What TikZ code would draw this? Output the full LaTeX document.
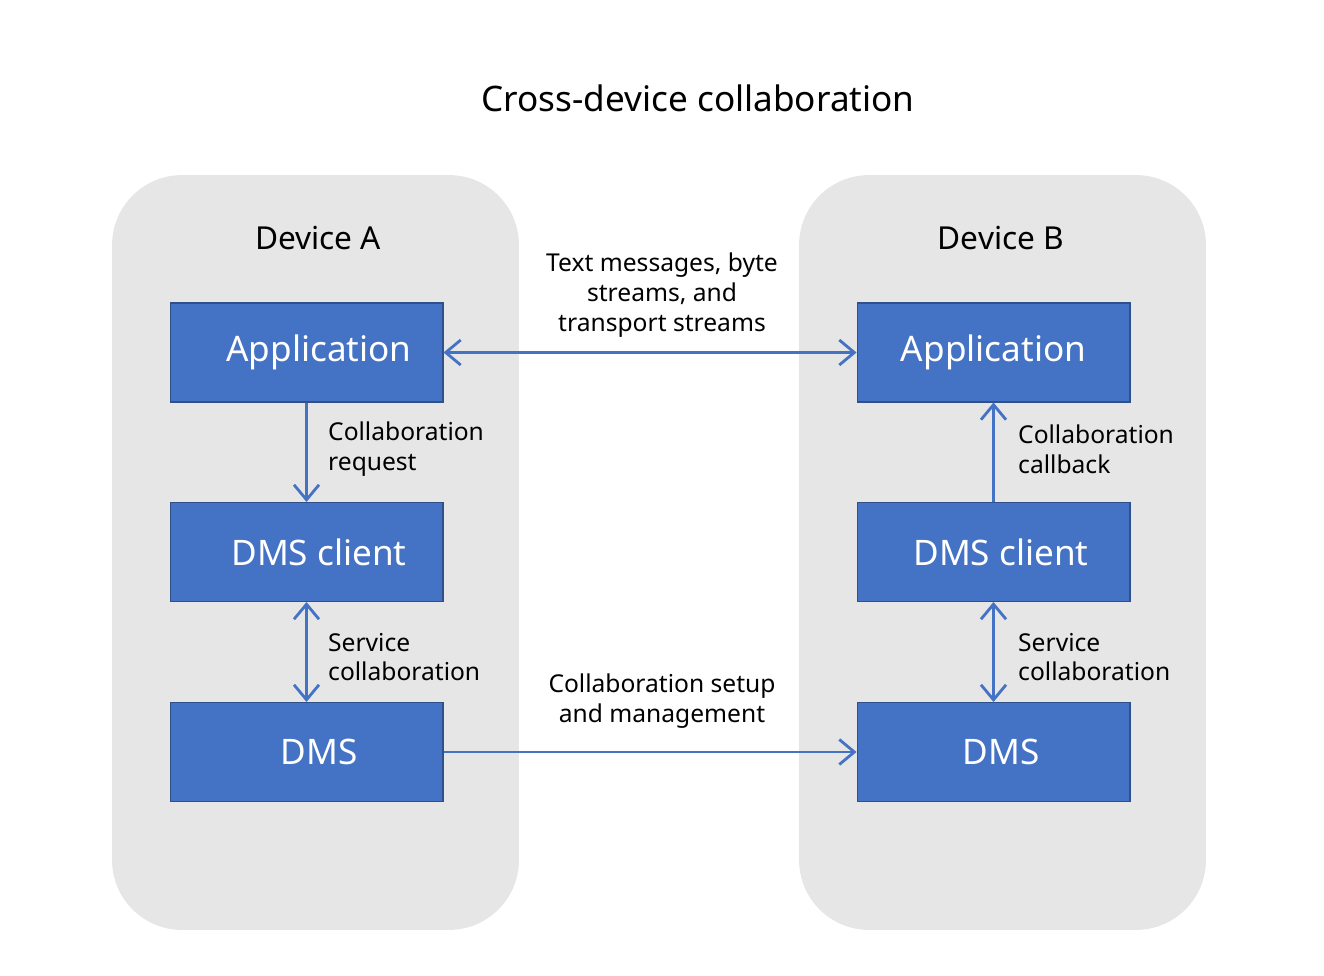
\documentclass[tikz,border=0pt]{standalone}
\usepackage{fontspec}
\setmainfont{Noto Sans}
\usetikzlibrary{positioning,arrows.meta}
\definecolor{boxblue}{HTML}{4472C4}
\definecolor{panelgray}{HTML}{E6E6E6}
\tikzset{
  panel/.style={fill=panelgray, draw=none, rounded corners=1.4cm, minimum width=8.14cm, minimum height=15.1cm},
  block/.style={fill=boxblue, draw=boxblue!70!black, line width=0.6pt, text=white, minimum width=5.46cm, minimum height=1.98cm, font=\fontsize{20}{24}\selectfont},
  link/.style={draw=boxblue, line width=1.6pt, -{Straight Barb[length=3mm,width=5mm]}},
  both/.style={link, {Straight Barb[length=3mm,width=5mm]}-{Straight Barb[length=3mm,width=5mm]}},
  note/.style={align=left, anchor=west, font=\fontsize{14}{17}\selectfont},
  mid/.style={align=center, font=\fontsize{14}{17}\selectfont}
}
\begin{document}
\begin{tikzpicture}[x=0.02cm,y=-0.02cm]
  \useasboundingbox (0,0) rectangle (1324,976);
  \node[font=\bfseries\fontsize{20}{24}\selectfont] (title) at (698,98) {Cross-device collaboration};

  \node[panel] (devA) at (315.5,552.5) {};
  \node[panel] (devB) at (1002.5,552.5) {};
  \node[font=\fontsize{18}{22}\selectfont] (labA) at (318,238) {Device A};
  \node[font=\fontsize{18}{22}\selectfont] (labB) at (1001,238) {Device B};

  \node[block] (appA) at (306.5,352.5) {\hspace{0.5cm}Application};
  \node[block] (clientA) at (306.5,552) {\hspace{0.5cm}DMS client};
  \node[block] (dmsA) at (306.5,752) {\hspace{0.5cm}DMS};
  \node[block] (appB) at (993.5,352.5) {Application};
  \node[block] (clientB) at (993.5,552) {\hspace{0.3cm}DMS client};
  \node[block] (dmsB) at (993.5,752) {\hspace{0.3cm}DMS};

  \draw[both] (appA) -- (appB);
  \draw[link] (dmsA) -- (dmsB);
  \draw[link] (appA) -- (clientA);
  \draw[link] (clientB) -- (appB);
  \draw[both] (clientA) -- (dmsA);
  \draw[both] (clientB) -- (dmsB);

  \node[mid] (msg) at (662,295) {Text messages, byte\\streams, and\\transport streams};
  \node[mid] (setup) at (662,701) {Collaboration setup\\and management};
  \node[note] (reqA) at (322,449) {Collaboration\\request};
  \node[note] (svcA) at (322,657) {Service\\collaboration};
  \node[note] (cbB) at (1012,449) {Collaboration\\callback};
  \node[note] (svcB) at (1012,657) {Service\\collaboration};
\end{tikzpicture}
\end{document}
